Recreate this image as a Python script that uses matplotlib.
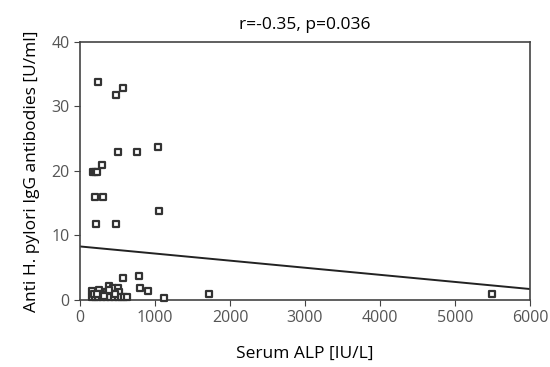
import numpy as np
import matplotlib.pyplot as plt

plt.rcParams['font.family'] = ['Open Sans', 'DejaVu Sans']

# serum ALP [IU/L] and anti H. pylori IgG [U/ml]
alp = [240, 480, 573, 507, 760, 1040, 293, 173, 200, 227, 200, 307,
       213, 480, 1053, 573, 787, 800, 907, 1120, 1720, 5500,
       164, 253, 387, 440, 507, 333, 280, 360, 420, 520,
       160, 200, 240, 290, 350, 400, 450, 500, 540, 580, 627, 470,
       180, 220, 320, 380]
igg = [33.8, 31.8, 32.9, 22.9, 22.9, 23.7, 20.9, 19.8, 19.8, 19.8, 16.0, 16.0,
       11.8, 11.8, 13.8, 3.4, 3.7, 1.9, 1.4, 0.3, 0.9, 0.9,
       1.4, 1.5, 2.2, 1.8, 1.8, 1.3, 1.0, 0.8, 1.0, 1.2,
       0.4, 0.4, 0.4, 0.5, 0.4, 0.4, 0.4, 0.4, 0.4, 0.4, 0.4, 0.9,
       1.0, 0.9, 0.6, 1.6]
fit_x = [0, 6000]
fit_y = [8.3, 1.7]

fig = plt.figure(figsize=(5.5, 3.67), dpi=100)
ax = fig.add_axes([0.1455, 0.1826, 0.8181, 0.703])

ax.scatter(alp, igg, marker='s', s=14, facecolors='white',
           edgecolors='#333333', linewidths=1.6, zorder=3, clip_on=False)
ax.plot(fit_x, fit_y, color='#222222', lw=1.4)

ax.set_xlim(0, 6000)
ax.set_ylim(0, 40)
ax.set_xticks(range(0, 6001, 1000))
ax.set_yticks(range(0, 41, 10))
for s in ax.spines.values():
    s.set_color('#444444')
    s.set_linewidth(1.2)
ax.tick_params(axis='both', colors='#444444', labelcolor='#555555',
               labelsize=11.5, length=4)

ax.set_title('r=-0.35, p=0.036', fontsize=12.5, pad=9)
ax.set_xlabel('Serum ALP [IU/L]', fontsize=12.5, labelpad=14)
ax.set_ylabel('Anti H. pylori IgG antibodies [U/ml]', fontsize=12.5, labelpad=8)

fig.savefig('out.png', dpi=100)
